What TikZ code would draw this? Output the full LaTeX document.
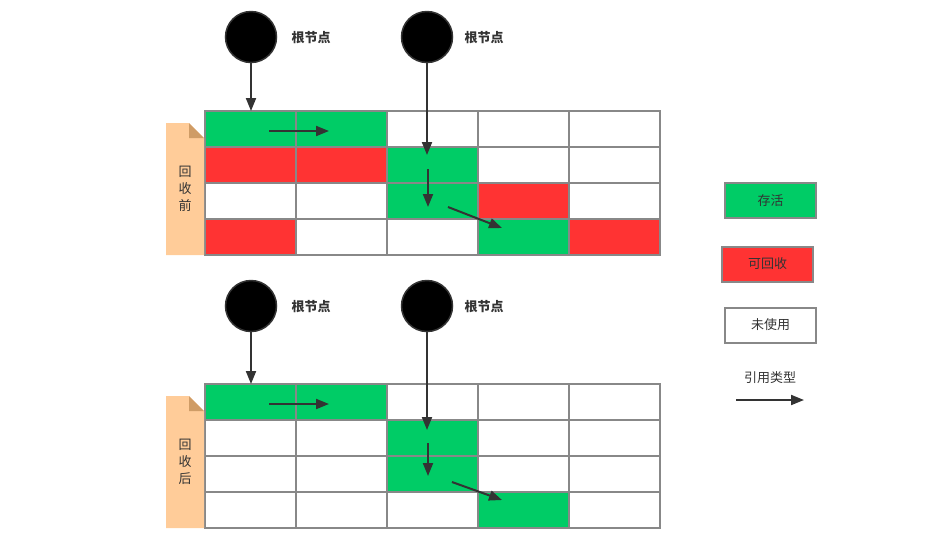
\documentclass[tikz,border=0pt]{standalone}
\usepackage{fontspec}
\setmainfont{Noto Sans CJK SC}
\usetikzlibrary{arrows.meta}
\definecolor{cG}{HTML}{00CC66}
\definecolor{cR}{HTML}{FF3333}
\definecolor{cW}{HTML}{FFFFFF}
\definecolor{gridgray}{HTML}{888888}
\definecolor{tabc}{HTML}{FFCC99}
\definecolor{foldc}{HTML}{CF9C66}
\definecolor{ink}{HTML}{333333}
\tikzset{
  cell/.style={draw=gridgray, line width=2pt, minimum width=91pt, minimum height=36pt, inner sep=0pt, outer sep=0pt},
  root/.style={circle, fill=black, draw=ink, line width=1.5pt, minimum size=51pt, inner sep=0pt},
  rootlabel/.style={font=\fontsize{13}{13}\selectfont\bfseries, text=ink},
  ref/.style={draw=ink, line width=2pt, -{Triangle[length=13pt,width=10pt]}},
  legbox/.style={draw=gridgray, line width=2pt, minimum width=91pt, minimum height=35pt, inner sep=0pt, font=\fontsize{13}{13}\selectfont, text=ink},
  tabtext/.style={font=\fontsize{13}{17}\selectfont, text=ink, align=center}
}
\begin{document}
\begin{tikzpicture}[x=1pt,y=-1pt]
\useasboundingbox (0,0) rectangle (948,547);
% ---------- top grid ----------
\foreach \rowlist [count=\r] in {{cG,cG,cW,cW,cW},{cR,cR,cG,cW,cW},{cW,cW,cG,cR,cW},{cR,cW,cW,cG,cR}}{
  \foreach \c [count=\k] in \rowlist {
    \node[cell, fill=\c] (t-\r-\k) at ({250.5+91*(\k-1)},{129+36*(\r-1)}) {};
  }
}
% ---------- bottom grid ----------
\foreach \rowlist [count=\r] in {{cG,cG,cW,cW,cW},{cW,cW,cG,cW,cW},{cW,cW,cG,cW,cW},{cW,cW,cW,cG,cW}}{
  \foreach \c [count=\k] in \rowlist {
    \node[cell, fill=\c] (b-\r-\k) at ({250.5+91*(\k-1)},{402+36*(\r-1)}) {};
  }
}
% ---------- tabs ----------
\fill[tabc] (166,123) -- (189,123) -- (204,138) -- (204,255) -- (166,255) -- cycle;
\fill[foldc] (189,123) -- (189,138) -- (204,138) -- cycle;
\node[tabtext] (tabtop) at (185,189) {回\\收\\前};
\fill[tabc] (166,396) -- (189,396) -- (204,411) -- (204,528) -- (166,528) -- cycle;
\fill[foldc] (189,396) -- (189,411) -- (204,411) -- cycle;
\node[tabtext] (tabbot) at (185,462) {回\\收\\后};
% ---------- roots top ----------
\node[root] (r1) at (251,37) {};
\node[root] (r2) at (427,37) {};
\node[rootlabel] (l1) at (311,38) {根节点};
\node[rootlabel] (l2) at (484,38) {根节点};
\coordinate (a1e) at (251,111);
\coordinate (a2e) at (427,155);
\coordinate (h1s) at (269,131); \coordinate (h1e) at (329,131);
\coordinate (v1s) at (428,169); \coordinate (v1e) at (428,207);
\coordinate (d1s) at (448,207); \coordinate (d1e) at (502,228);
\draw[ref] (r1) -- (a1e);
\draw[ref] (r2) -- (a2e);
\draw[ref] (h1s) -- (h1e);
\draw[ref] (v1s) -- (v1e);
\draw[ref] (d1s) -- (d1e);
% ---------- roots bottom ----------
\node[root] (r3) at (251,306) {};
\node[root] (r4) at (427,306) {};
\node[rootlabel] (l3) at (311,307) {根节点};
\node[rootlabel] (l4) at (484,307) {根节点};
\coordinate (a3e) at (251,384);
\coordinate (a4e) at (427,430);
\coordinate (h2s) at (269,404); \coordinate (h2e) at (329,404);
\coordinate (v2s) at (428,443); \coordinate (v2e) at (428,476);
\coordinate (d2s) at (452,482); \coordinate (d2e) at (502,500);
\draw[ref] (r3) -- (a3e);
\draw[ref] (r4) -- (a4e);
\draw[ref] (h2s) -- (h2e);
\draw[ref] (v2s) -- (v2e);
\draw[ref] (d2s) -- (d2e);
% ---------- legend ----------
\node[legbox, fill=cG] (lg) at (770.5,200.5) {存活};
\node[legbox, fill=cR] (lr) at (767.5,264) {可回收};
\node[legbox, fill=cW] (lw) at (770.5,325) {未使用};
\node[font=\fontsize{13}{13}\selectfont, text=ink] (lt) at (770,378) {引用类型};
\coordinate (las) at (736,400); \coordinate (lae) at (804,400);
\draw[ref] (las) -- (lae);
\end{tikzpicture}
\end{document}
